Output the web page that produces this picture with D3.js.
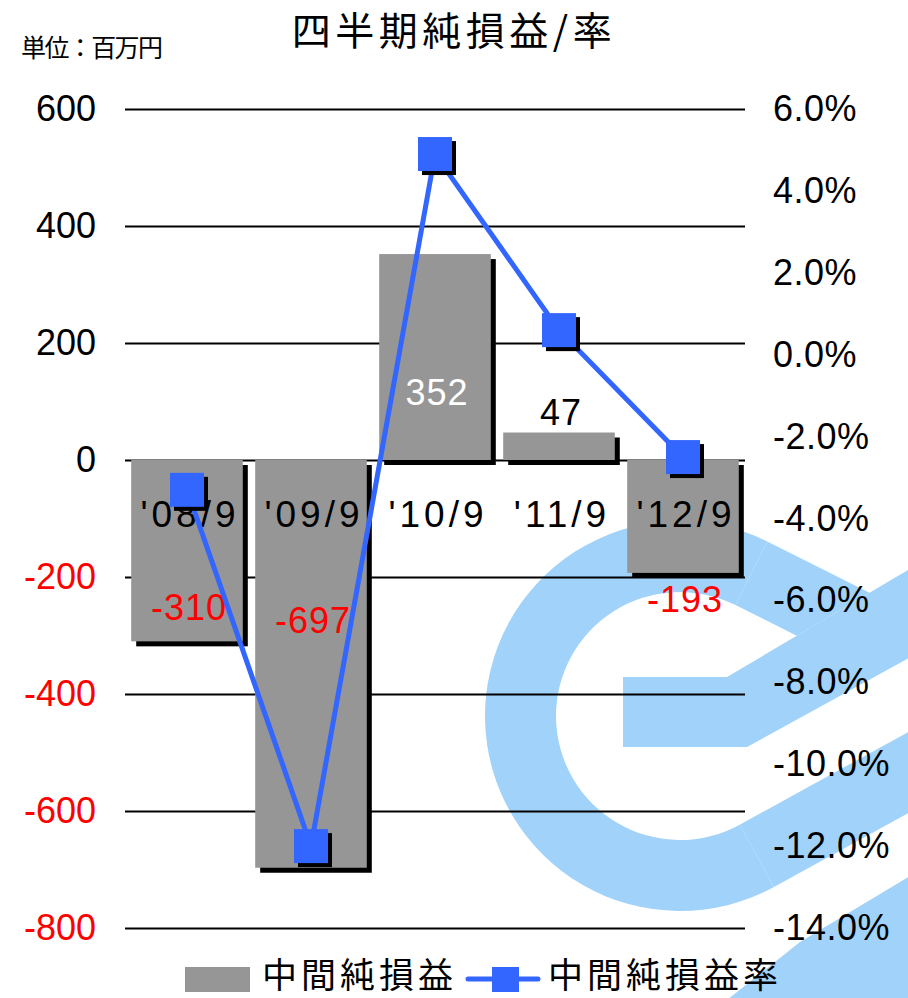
<!DOCTYPE html>
<html>
<head>
<meta charset="utf-8">
<script src="https://cdn.jsdelivr.net/npm/d3@7"></script>
<style>
body{margin:0;background:#fff;}
svg{display:block;}
text{font-family:"Liberation Sans",Arial,sans-serif;}
.jp{font-family:"Noto Sans CJK JP",sans-serif;}
</style>
</head>
<body>
<svg id="chart" width="908" height="998"></svg>
<script>
// data
const categories = ["'08/9", "'09/9", "'10/9", "'11/9", "'12/9"];
const netIncome = [-310, -697, 352, 47, -193];      // 中間純損益 (百万円)
const netRate = [-3.3, -12.0, 4.9, 0.6, -2.5];      // 中間純損益率 (%)
const leftTicks = [600, 400, 200, 0, -200, -400, -600, -800];
const rightTicks = [6, 4, 2, 0, -2, -4, -6, -8, -10, -12, -14];
// where the original put each value label (left axis units)
const labelAt = [-252, -274, 116, 82, -239];

const BAR = "#969696", BLUE = "#3366ff", RED = "#ff0000", LOGO = "#a0d2fa";

const svg = d3.select("#chart");
const plot = {left: 125, right: 745, top: 109, bottom: 928};

const x = d3.scaleBand().domain(categories)
    .range([plot.left, plot.right]).paddingInner(0.1).paddingOuter(0.05);
const y = d3.scaleLinear().domain([-800, 600]).range([plot.bottom, plot.top]);
const y2 = d3.scaleLinear().domain([-14, 6]).range([plot.bottom, plot.top]);
const cx = c => x(c) + x.bandwidth() / 2;

// background logo (watermark)
function drawLogo(g){
    const c = [680, 716], R = 195, r = 124;
    const a1 = 26.57 * Math.PI / 180, a2 = 151.2 * Math.PI / 180;
    const pt = (rad, a) => [c[0] + rad * Math.sin(a), c[1] - rad * Math.cos(a)];
    const meet = (p, u, q, v) => {
        const den = u[0] * v[1] - u[1] * v[0];
        const s = ((q[0] - p[0]) * v[1] - (q[1] - p[1]) * v[0]) / den;
        return [p[0] + s * u[0], p[1] + s * u[1]];
    };
    const poly = pts => g.append("path").attr("d", d3.line()(pts) + "Z").attr("fill", LOGO);

    g.append("path")
        .attr("transform", `translate(${c[0]},${c[1]})`)
        .attr("d", d3.arc()({innerRadius: r, outerRadius: R, startAngle: a2, endAngle: a1 + 2 * Math.PI}))
        .attr("fill", LOGO);

    // middle bar, turning up to the right
    const midTop = [727, 677], midDir = [1, -0.591];
    const midBot = [747, 747], botDir = [1, -0.55];
    poly([[623, 677], midTop, [930, midTop[1] + midDir[1] * (930 - midTop[0])],
          [930, midBot[1] + botDir[1] * (930 - midBot[0])], midBot, [623, 747]]);

    // upper arm down to the notch
    const armDir = [Math.cos(a1), Math.sin(a1)];
    const o1 = pt(R, a1), i1 = pt(r, a1);
    poly([o1, meet(o1, armDir, midTop, midDir), meet(i1, armDir, midTop, midDir), i1]);

    // lower arm going up right
    const lowDir = [Math.cos(Math.PI - a2), -Math.sin(Math.PI - a2)];
    const o2 = pt(R, a2), i2 = pt(r, a2);
    const ext = (p, d) => { const t = (930 - p[0]) / d[0]; return [930, p[1] + t * d[1]]; };
    poly([o2, ext(o2, lowDir), ext(i2, lowDir), i2]);

    // last stripe from the bottom edge
    poly([[727, 1000], [800, 942], [930, 864], [930, 1000]]);
}
drawLogo(svg.append("g"));

// grid lines
svg.append("g")
    .attr("transform", `translate(${plot.left},0)`)
    .call(d3.axisRight(y).tickValues(leftTicks).tickSize(plot.right - plot.left).tickFormat(""))
    .call(g => g.select(".domain").remove())
    .selectAll("line").attr("stroke", "#000").attr("stroke-width", 2);

// left axis
svg.append("g")
    .attr("transform", `translate(${plot.left},0)`)
    .call(d3.axisLeft(y).tickValues(leftTicks).tickSize(0).tickPadding(29).tickFormat(d => String(d)))
    .call(g => g.select(".domain").remove())
    .selectAll("text")
    .attr("font-size", 36)
    .attr("fill", d => d < 0 ? RED : "#000");

// right axis
svg.append("g")
    .attr("transform", `translate(${plot.right},0)`)
    .call(d3.axisRight(y2).tickValues(rightTicks).tickSize(0).tickPadding(28).tickFormat(d => d.toFixed(1) + "%"))
    .call(g => g.select(".domain").remove())
    .selectAll("text")
    .attr("font-size", 36)
    .attr("letter-spacing", 0.5)
    .attr("fill", "#000");

// bars with drop shadow
const bars = svg.append("g");
bars.selectAll(".shadow").data(netIncome).join("rect")
    .attr("class", "shadow")
    .attr("x", (d, i) => x(categories[i]) + 5)
    .attr("y", d => Math.min(y(d), y(0)) + 5)
    .attr("width", x.bandwidth())
    .attr("height", d => Math.abs(y(d) - y(0)))
    .attr("fill", "#000");
bars.selectAll(".bar").data(netIncome).join("rect")
    .attr("class", "bar")
    .attr("x", (d, i) => x(categories[i]))
    .attr("y", d => Math.min(y(d), y(0)))
    .attr("width", x.bandwidth())
    .attr("height", d => Math.abs(y(d) - y(0)))
    .attr("fill", BAR);

// category labels sit under the zero line
svg.append("g")
    .attr("transform", `translate(0,${y(0)})`)
    .call(d3.axisBottom(x).tickSize(0).tickPadding(41))
    .call(g => g.select(".domain").remove())
    .selectAll("text")
    .attr("font-size", 37)
    .attr("letter-spacing", 4)
    .attr("dx", 3)
    .attr("fill", "#000");

// value labels
svg.append("g").selectAll("text").data(netIncome).join("text")
    .attr("x", (d, i) => cx(categories[i]) + 2)
    .attr("y", (d, i) => y(labelAt[i]))
    .attr("dy", "0.35em")
    .attr("text-anchor", "middle")
    .attr("font-size", 36)
    .attr("letter-spacing", 1)
    .attr("fill", (d, i) => d < 0 ? RED : (labelAt[i] < d ? "#fff" : "#000"))
    .text(d => String(d));

// rate line
svg.append("path")
    .datum(netRate)
    .attr("d", d3.line().x((d, i) => cx(categories[i])).y(d => y2(d)))
    .attr("fill", "none")
    .attr("stroke", BLUE)
    .attr("stroke-width", 5);

const M = 34;
svg.append("g").selectAll("rect").data(netRate).join("rect")
    .attr("x", (d, i) => cx(categories[i]) - M / 2 + 4)
    .attr("y", d => y2(d) - M / 2 + 4)
    .attr("width", M).attr("height", M)
    .attr("fill", "#000");
svg.append("g").selectAll("rect").data(netRate).join("rect")
    .attr("x", (d, i) => cx(categories[i]) - M / 2)
    .attr("y", d => y2(d) - M / 2)
    .attr("width", M).attr("height", M)
    .attr("fill", BLUE);

// title and unit
svg.append("text").attr("class", "jp")
    .attr("x", 454).attr("y", 45)
    .attr("text-anchor", "middle")
    .attr("font-size", 39).attr("letter-spacing", 4.5)
    .text("四半期純損益/率");
svg.append("text").attr("class", "jp")
    .attr("x", 21).attr("y", 57)
    .attr("font-size", 25).attr("letter-spacing", -1.6)
    .text("単位：百万円");

// legend
const lg = svg.append("g");
lg.append("rect").attr("x", 185).attr("y", 967).attr("width", 65).attr("height", 25).attr("fill", BAR);
lg.append("text").attr("class", "jp").attr("x", 262).attr("y", 988)
    .attr("font-size", 35).attr("letter-spacing", 4).text("中間純損益");
lg.append("line").attr("x1", 468).attr("x2", 538).attr("y1", 979).attr("y2", 979)
    .attr("stroke", BLUE).attr("stroke-width", 5).attr("stroke-linecap", "round");
lg.append("rect").attr("x", 492).attr("y", 967).attr("width", 27).attr("height", 25).attr("fill", BLUE);
lg.append("text").attr("class", "jp").attr("x", 548).attr("y", 988)
    .attr("font-size", 35).attr("letter-spacing", 4).text("中間純損益率");
</script>
</body>
</html>
